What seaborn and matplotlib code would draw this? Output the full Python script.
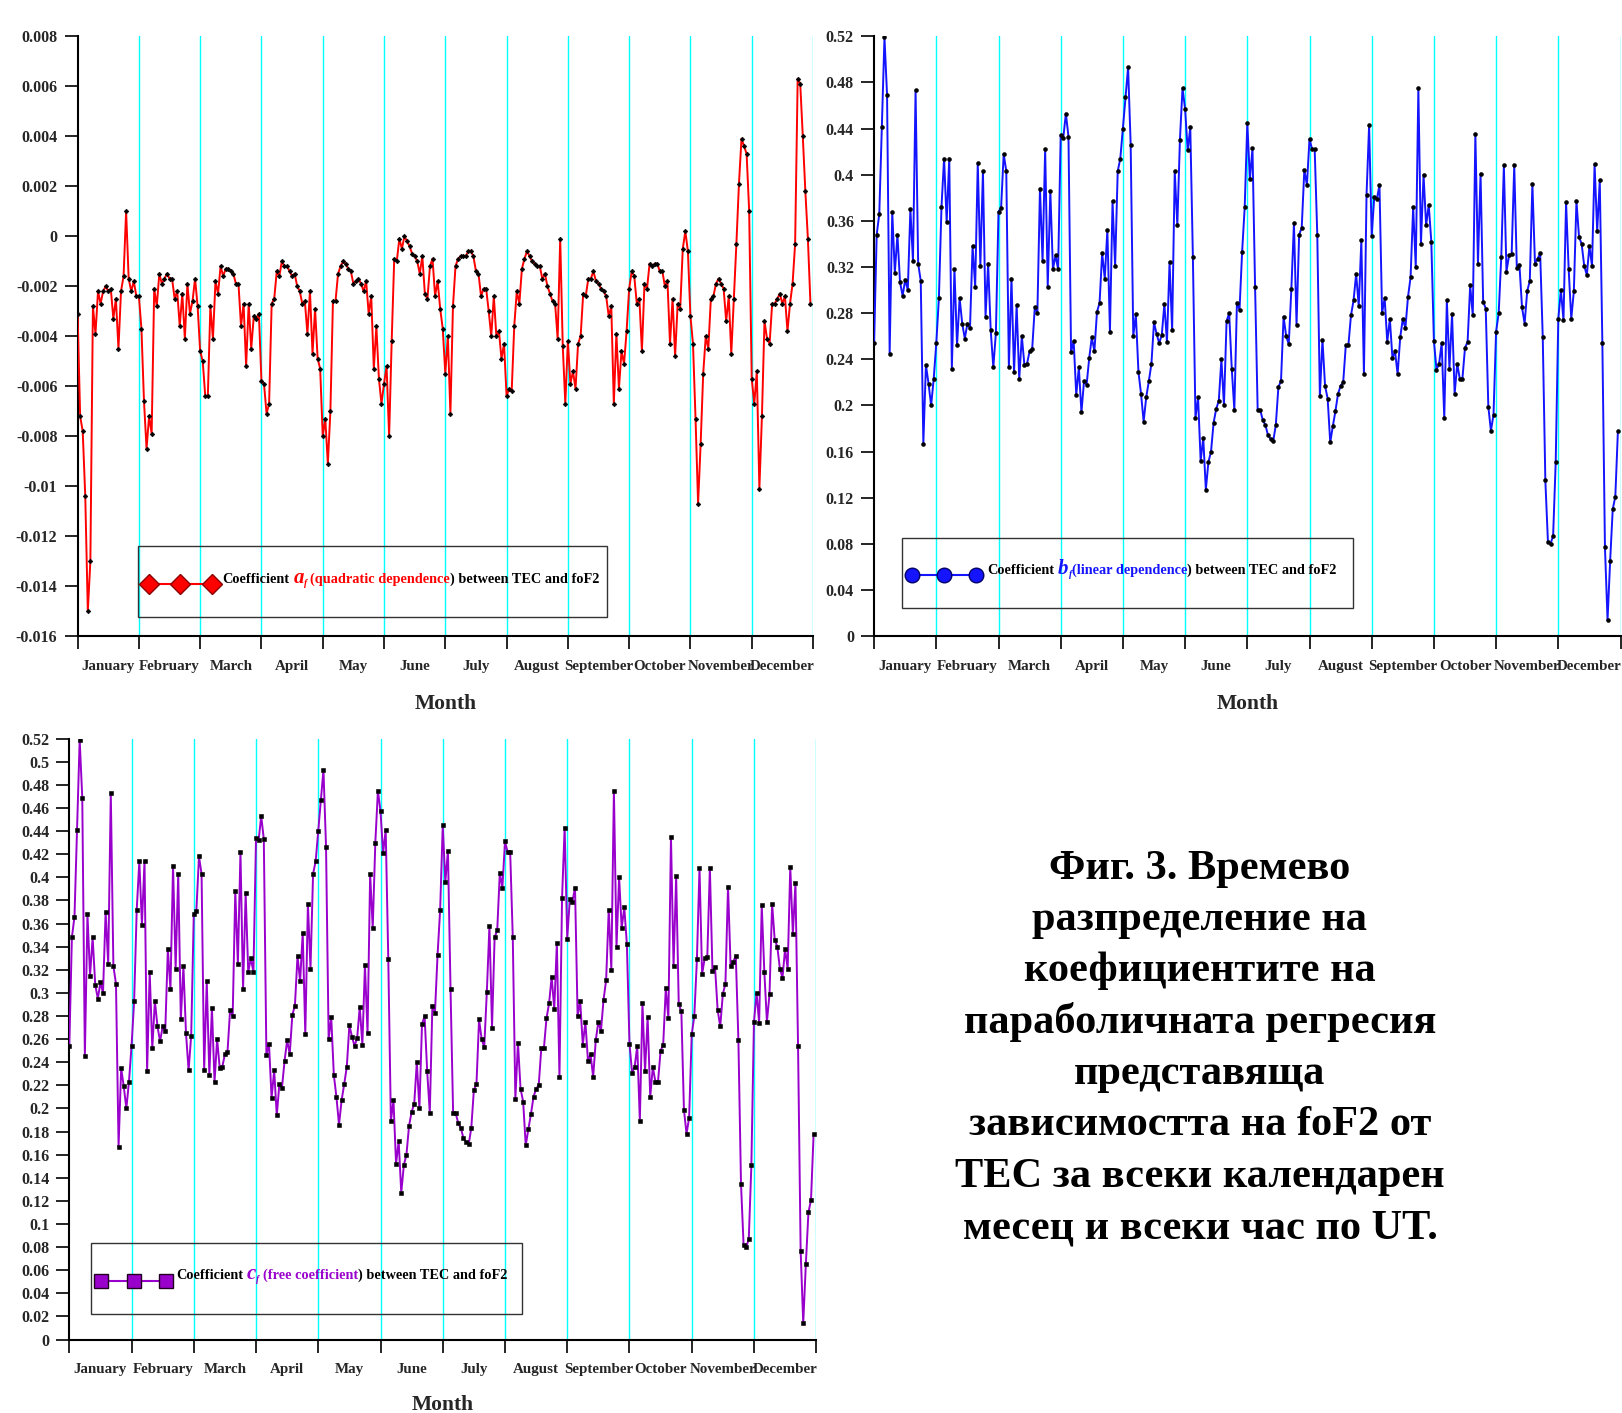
import numpy as np
import pandas as pd
import matplotlib
matplotlib.use("Agg")
import matplotlib.pyplot as plt
import seaborn as sns
from matplotlib.patches import Rectangle
from matplotlib.lines import Line2D
from matplotlib.ticker import FuncFormatter

# ---------------- data ----------------
months = ["January", "February", "March", "April", "May", "June", "July",
          "August", "September", "October", "November", "December"]

# coefficient a_f, 24 hourly values (UT) per month
a_jan = [-0.0031, -0.0072, -0.0078, -0.0104, -0.0150, -0.0130, -0.0028, -0.0039, -0.0022, -0.0027, -0.0022, -0.0020,
         -0.0022, -0.0021, -0.0033, -0.0025, -0.0045, -0.0022, -0.0016, 0.0010, -0.0017, -0.0022, -0.0018, -0.0024]
a_feb = [-0.0024, -0.0037, -0.0066, -0.0085, -0.0072, -0.0079, -0.0021, -0.0028, -0.0015, -0.0019, -0.0017, -0.0015,
         -0.0017, -0.0017, -0.0025, -0.0022, -0.0036, -0.0023, -0.0041, -0.0019, -0.0031, -0.0026, -0.0017, -0.0028]
a_mar = [-0.0046, -0.0050, -0.0064, -0.0064, -0.0028, -0.0041, -0.0018, -0.0023, -0.0012, -0.0016, -0.0013, -0.0013,
         -0.0014, -0.0015, -0.0019, -0.0019, -0.0036, -0.0027, -0.0052, -0.0027, -0.0045, -0.0032, -0.0033, -0.0031]
a_apr = [-0.0058, -0.0059, -0.0071, -0.0067, -0.0027, -0.0025, -0.0014, -0.0016, -0.0010, -0.0012, -0.0012, -0.0014,
         -0.0016, -0.0015, -0.0020, -0.0022, -0.0027, -0.0026, -0.0039, -0.0022, -0.0047, -0.0029, -0.0049, -0.0053]
a_may = [-0.0080, -0.0073, -0.0091, -0.0070, -0.0026, -0.0026, -0.0015, -0.0012, -0.0010, -0.0011, -0.0013, -0.0014,
         -0.0019, -0.0018, -0.0017, -0.0019, -0.0022, -0.0018, -0.0031, -0.0024, -0.0053, -0.0036, -0.0057, -0.0067]
a_jun = [-0.0059, -0.0052, -0.0080, -0.0042, -0.0009, -0.0010, -0.0001, -0.0005, 0.0000, -0.0002, -0.0004, -0.0007,
         -0.0008, -0.0010, -0.0015, -0.0008, -0.0023, -0.0025, -0.0012, -0.0009, -0.0024, -0.0018, -0.0029, -0.0037]
a_jul = [-0.0055, -0.0040, -0.0071, -0.0028, -0.0012, -0.0009, -0.0008, -0.0008, -0.0008, -0.0006, -0.0006, -0.0008,
         -0.0014, -0.0015, -0.0024, -0.0021, -0.0021, -0.0030, -0.0040, -0.0024, -0.0040, -0.0038, -0.0049, -0.0043]
a_aug = [-0.0064, -0.0061, -0.0062, -0.0036, -0.0022, -0.0027, -0.0013, -0.0009, -0.0006, -0.0008, -0.0010, -0.0011,
         -0.0012, -0.0012, -0.0017, -0.0015, -0.0020, -0.0023, -0.0026, -0.0027, -0.0041, -0.0001, -0.0044, -0.0067]
a_sep = [-0.0042, -0.0059, -0.0054, -0.0061, -0.0043, -0.0040, -0.0023, -0.0024, -0.0017, -0.0017, -0.0014, -0.0018,
         -0.0019, -0.0021, -0.0022, -0.0024, -0.0032, -0.0028, -0.0067, -0.0039, -0.0061, -0.0046, -0.0051, -0.0038]
a_oct = [-0.0021, -0.0014, -0.0016, -0.0027, -0.0025, -0.0046, -0.0019, -0.0021, -0.0011, -0.0012, -0.0011, -0.0011,
         -0.0014, -0.0014, -0.0020, -0.0018, -0.0043, -0.0025, -0.0048, -0.0027, -0.0029, -0.0005, 0.0002, -0.0006]
a_nov = [-0.0032, -0.0043, -0.0073, -0.0107, -0.0083, -0.0055, -0.0040, -0.0045, -0.0025, -0.0024, -0.0019, -0.0017,
         -0.0019, -0.0021, -0.0034, -0.0024, -0.0047, -0.0025, -0.0003, 0.0021, 0.0039, 0.0036, 0.0033, 0.0010]
a_dec = [-0.0057, -0.0067, -0.0054, -0.0101, -0.0072, -0.0034, -0.0041, -0.0043, -0.0027, -0.0027, -0.0025, -0.0023,
         -0.0027, -0.0024, -0.0038, -0.0027, -0.0019, -0.0003, 0.0063, 0.0061, 0.0040, 0.0018, -0.0001, -0.0027]

# coefficient b_f
b_jan = [0.254, 0.348, 0.366, 0.441, 0.519, 0.469, 0.245, 0.368, 0.315, 0.348, 0.307, 0.295,
         0.309, 0.300, 0.370, 0.325, 0.473, 0.323, 0.308, 0.167, 0.235, 0.219, 0.200, 0.223]
b_feb = [0.254, 0.293, 0.372, 0.414, 0.359, 0.414, 0.232, 0.318, 0.252, 0.293, 0.271, 0.258,
         0.271, 0.267, 0.338, 0.303, 0.410, 0.321, 0.403, 0.277, 0.323, 0.265, 0.233, 0.263]
b_mar = [0.368, 0.371, 0.418, 0.403, 0.233, 0.310, 0.229, 0.287, 0.223, 0.260, 0.235, 0.236,
         0.247, 0.249, 0.285, 0.280, 0.388, 0.325, 0.422, 0.303, 0.386, 0.318, 0.330, 0.318]
b_apr = [0.434, 0.432, 0.453, 0.433, 0.246, 0.256, 0.209, 0.233, 0.194, 0.221, 0.218, 0.241,
         0.259, 0.247, 0.281, 0.289, 0.332, 0.310, 0.352, 0.264, 0.377, 0.321, 0.403, 0.414]
b_may = [0.440, 0.467, 0.493, 0.426, 0.260, 0.279, 0.229, 0.210, 0.186, 0.207, 0.221, 0.236,
         0.272, 0.262, 0.254, 0.261, 0.288, 0.255, 0.324, 0.265, 0.403, 0.356, 0.430, 0.475]
b_jun = [0.457, 0.421, 0.441, 0.329, 0.189, 0.207, 0.152, 0.172, 0.127, 0.151, 0.160, 0.185,
         0.197, 0.204, 0.240, 0.200, 0.273, 0.280, 0.232, 0.196, 0.289, 0.283, 0.333, 0.372]
b_jul = [0.445, 0.396, 0.423, 0.303, 0.196, 0.196, 0.187, 0.183, 0.174, 0.171, 0.169, 0.183,
         0.216, 0.221, 0.277, 0.260, 0.253, 0.301, 0.358, 0.270, 0.348, 0.354, 0.404, 0.391]
b_aug = [0.431, 0.422, 0.422, 0.348, 0.208, 0.257, 0.217, 0.206, 0.168, 0.182, 0.195, 0.210,
         0.217, 0.220, 0.252, 0.252, 0.278, 0.291, 0.314, 0.286, 0.343, 0.227, 0.382, 0.443]
b_sep = [0.347, 0.381, 0.379, 0.391, 0.280, 0.293, 0.255, 0.275, 0.241, 0.247, 0.227, 0.259,
         0.275, 0.267, 0.294, 0.311, 0.372, 0.320, 0.475, 0.340, 0.400, 0.356, 0.374, 0.342]
b_oct = [0.256, 0.231, 0.236, 0.254, 0.189, 0.291, 0.232, 0.279, 0.210, 0.236, 0.223, 0.223,
         0.250, 0.255, 0.304, 0.278, 0.435, 0.323, 0.401, 0.290, 0.284, 0.199, 0.178, 0.192]
b_nov = [0.264, 0.280, 0.329, 0.408, 0.316, 0.330, 0.331, 0.408, 0.319, 0.322, 0.285, 0.271,
         0.299, 0.308, 0.392, 0.323, 0.327, 0.332, 0.259, 0.135, 0.082, 0.080, 0.087, 0.151]
b_dec = [0.275, 0.300, 0.274, 0.376, 0.318, 0.275, 0.299, 0.377, 0.346, 0.340, 0.321, 0.313,
         0.338, 0.321, 0.409, 0.351, 0.395, 0.254, 0.077, 0.014, 0.065, 0.110, 0.121, 0.178]

a_values = a_jan + a_feb + a_mar + a_apr + a_may + a_jun + a_jul + a_aug + a_sep + a_oct + a_nov + a_dec
b_values = b_jan + b_feb + b_mar + b_apr + b_may + b_jun + b_jul + b_aug + b_sep + b_oct + b_nov + b_dec
# coefficient c_f: the reference panel shows the same curve as b_f
c_values = list(b_values)

caption_lines = ["Фиг. 3. Времево", "разпределение на", "коефициентите на",
                 "параболичната регресия", "представяща", "зависимостта на foF2 от",
                 "TEC за всеки календарен", "месец и всеки час по UT."]

# ---------------- style ----------------
W, H = 1622, 1413
sns.set_theme(style="ticks")
plt.rcParams["font.family"] = ["Liberation Serif", "DejaVu Serif"]
plt.rcParams["font.weight"] = "bold"

fig = plt.figure(figsize=(W / 100, H / 100), dpi=100)

df = pd.DataFrame({"slot": np.arange(len(a_values)), "a": a_values,
                   "b": b_values, "c": c_values})
n_slots = len(a_values)


def add_axes_px(l, r, t, b):
    return fig.add_axes([l / W, 1 - b / H, (r - l) / W, (b - t) / H])


def fmt(v, p):
    v = round(v, 6)
    if abs(v) < 1e-12:
        return "0"
    return f"{v:g}"


def panel(ax, col, color, marker, ms, ylim, ystep, label_top):
    for k in range(1, 13):
        ax.axvline(24 * k, color="#00ffff", lw=1.0, zorder=0)
    sns.lineplot(data=df, x="slot", y=col, ax=ax, color=color, lw=1.4,
                 marker=marker, markersize=ms, markerfacecolor="black",
                 markeredgecolor="black", markeredgewidth=0.4,
                 errorbar=None, legend=False, zorder=3)
    ax.set_xlim(0, n_slots)
    ax.set_ylim(*ylim)
    ax.set_yticks(np.arange(ylim[0], ylim[1] + ystep / 2, ystep))
    ax.yaxis.set_major_formatter(FuncFormatter(fmt))
    ax.set_xticks(np.arange(0, n_slots + 1, 24))
    ax.set_xticklabels([])
    ax.set_xticks(np.arange(12, n_slots, 24), minor=True)
    ax.set_xticklabels(months, minor=True)
    ax.tick_params(axis="x", which="major", direction="out", length=9.5, width=1.2, color="black")
    ax.tick_params(axis="x", which="minor", length=0, pad=17, labelsize=10.8)
    ax.tick_params(axis="y", direction="out", length=9.5, width=1.2, color="black",
                   labelsize=11.5, pad=5)
    for s in ["top", "right"]:
        ax.spines[s].set_visible(False)
    for s in ["left", "bottom"]:
        ax.spines[s].set_color("black")
        ax.spines[s].set_linewidth(1.5)
    ax.set_ylabel("")
    ax.set_xlabel("Month", fontsize=15.5, fontweight="bold")
    ax.xaxis.set_label_coords(0.5, label_top)
    ax.set_facecolor("white")


ax_a = add_axes_px(77.6, 813.0, 36.2, 636.2)
panel(ax_a, "a", "#ff0000", "D", 2.4, (-0.016, 0.008), 0.002, -0.097)
ax_b = add_axes_px(874.1, 1620.5, 36.2, 636.2)
panel(ax_b, "b", "#1414ff", "o", 2.8, (0.0, 0.52), 0.04, -0.097)
ax_c = add_axes_px(69.3, 816.2, 738.6, 1339.6)
panel(ax_c, "c", "#9900cc", "s", 2.6, (0.0, 0.52), 0.02, -0.092)

renderer = fig.canvas.get_renderer()


def legend_box(box, mxs, my, marker, mcolor, medge, msize, tx, ty, chunks):
    x0, x1, y0, y1 = box
    fig.add_artist(Rectangle((x0 / W, 1 - y1 / H), (x1 - x0) / W, (y1 - y0) / H,
                             transform=fig.transFigure, fill=False, ec="#333333", lw=1.0))
    fig.add_artist(Line2D([m / W for m in mxs], [1 - my / H] * len(mxs),
                          transform=fig.transFigure, color=mcolor, lw=1.5, marker=marker,
                          ms=msize, mfc=mcolor, mec=medge, mew=1.0))
    x = tx
    for s, color, style, size, dy, gap in chunks:
        t = fig.text(x / W, 1 - (ty + dy) / H, s, color=color, fontstyle=style,
                     fontsize=size, fontweight="bold", ha="left", va="baseline")
        bb = t.get_window_extent(renderer)
        x = bb.x1 + gap


red, blue, purple = "#ff0000", "#1414ff", "#9900cc"
legend_box((137.6, 607.2, 546, 616.5), [148.6, 180.2, 211.8], 584, "D", red, "#8b0000", 10,
           222.5, 583,
           [("Coefficient", "black", "normal", 10.3, 0, 4),
            ("a", red, "italic", 15, 0, 0),
            ("f", red, "italic", 7, 3, 3),
            ("(quadratic dependence", red, "normal", 10.3, 0, 0),
            (") between TEC and foF2", "black", "normal", 10.3, 0, 0)])
legend_box((902, 1353, 538, 608), [912, 944, 976], 575, "o", blue, "#000066", 10.5,
           987, 574,
           [("Coefficient", "black", "normal", 10.3, 0, 4),
            ("b", blue, "italic", 15, 0, 0),
            ("f", blue, "italic", 7, 3, 0),
            ("(linear dependence", blue, "normal", 10.3, 0, 0),
            (") between TEC and foF2", "black", "normal", 10.3, 0, 0)])
legend_box((91, 522, 1243, 1314), [101, 133.5, 165.5], 1280.6, "s", purple, "#220022", 10.5,
           176, 1279,
           [("Coefficient", "black", "normal", 10.3, 0, 4),
            ("c", purple, "italic", 15, 0, 0),
            ("f", purple, "italic", 7, 3, 3),
            ("(free coefficient", purple, "normal", 10.3, 0, 0),
            (") between TEC and foF2", "black", "normal", 10.3, 0, 0)])

caption_y = [869, 920, 971, 1022, 1074, 1125, 1177, 1228]
for line, yc in zip(caption_lines, caption_y):
    fig.text(1200 / W, 1 - yc / H, line, ha="center", va="center", fontsize=30.5,
             fontweight="bold", color="black")

fig.savefig("out.png", dpi=100, facecolor="white")
